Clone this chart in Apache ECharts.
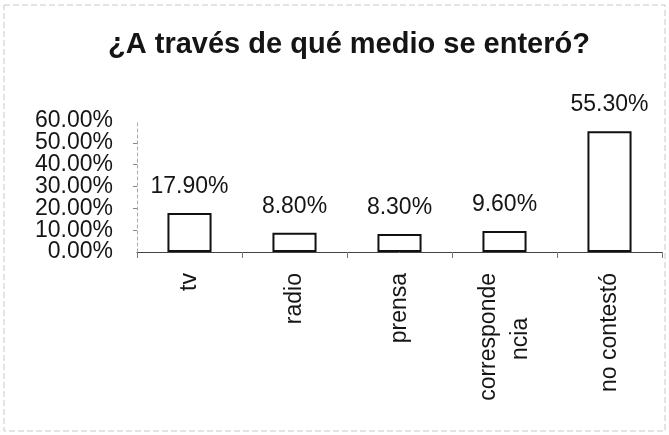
<!DOCTYPE html>
<html>
<head>
<meta charset="utf-8">
<script src="https://cdn.jsdelivr.net/npm/echarts@6/dist/echarts.min.js"></script>
<style>
html,body{margin:0;padding:0;background:#fff;}
#c{width:669px;height:435px;}
</style>
</head>
<body>
<div id="c"></div>
<script>
const titleText = '¿A través de qué medio se enteró?';
const categories = ['tv', 'radio', 'prensa', 'correspondencia', 'no contestó'];
const values = [17.9, 8.8, 8.3, 9.6, 55.3];
const yMin = 0, yMax = 60, yStep = 10;

const FONT = '"Liberation Sans", Arial, sans-serif';
const LABEL_SIZE = 23;
const chart = echarts.init(document.getElementById('c'), null, {renderer: 'canvas'});

const measureCtx = document.createElement('canvas').getContext('2d');
measureCtx.font = LABEL_SIZE + 'px "Liberation Sans", Arial, sans-serif';
function textW(s) { return measureCtx.measureText(s).width; }

// wrap long category names like the original (Excel word-break), centring the second line
function wrapLabel(s) {
  if (s.length > 11) {
    const a = s.slice(0, 11), b = s.slice(11);
    const sp = textW('\u00a0') || 6.4;
    const n = Math.max(0, Math.round((textW(a) - textW(b)) / 2 / sp));
    return a + '\n' + b + '\u00a0'.repeat(n);
  }
  return s;
}

const pct = v => v.toFixed(2) + '%';
const yLabelBase = {
  margin: 24,
  hideOverlap: false,
  color: '#151515',
  fontFamily: FONT,
  fontSize: LABEL_SIZE,
  lineHeight: 18
};

chart.setOption({
  backgroundColor: '#ffffff',
  animation: false,
  title: {
    text: titleText,
    left: 344,
    textAlign: 'center',
    top: 25,
    textStyle: {fontFamily: FONT, fontSize: 29, fontWeight: 'bold', color: '#151515'}
  },
  graphic: [{
    type: 'rect',
    shape: {x: 4, y: 5, width: 661, height: 426},
    style: {fill: 'none', stroke: '#c8c8c8', lineWidth: 1, lineDash: [6, 3]},
    silent: true
  }],
  grid: {left: 137, right: 7, top: 121, bottom: 183, containLabel: false},
  xAxis: {
    type: 'category',
    data: categories,
    axisLine: {lineStyle: {color: '#444', width: 1}},
    axisTick: {show: true, length: 6, lineStyle: {color: '#777'}},
    axisLabel: {
      rotate: 90,
      margin: 21,
      interval: 0,
      color: '#151515',
      fontFamily: FONT,
      fontSize: LABEL_SIZE,
      lineHeight: 32,
      formatter: wrapLabel
    }
  },
  yAxis: [{
    type: 'value',
    position: 'left',
    min: yMin,
    max: yMax,
    interval: yStep,
    splitLine: {show: false},
    axisLine: {show: true, lineStyle: {color: '#aaa', width: 1, type: [3, 3]}},
    axisTick: {show: true, length: 4, lineStyle: {color: '#888'}},
    axisLabel: Object.assign({}, yLabelBase, {
      showMinLabel: false,
      showMaxLabel: false,
      formatter: pct
    })
  }, {
    type: 'value',
    position: 'left',
    offset: 0,
    min: yMin,
    max: yMax,
    interval: yStep,
    splitLine: {show: false},
    axisLine: {show: false},
    axisTick: {show: false},
    axisLabel: Object.assign({}, yLabelBase, {
      showMinLabel: true,
      showMaxLabel: true,
      formatter: v => (v === yMin || v === yMax) ? pct(v) : ''
    })
  }],
  series: [{
    type: 'bar',
    yAxisIndex: 0,
    data: values,
    barWidth: '42%',
    itemStyle: {color: '#ffffff', borderColor: '#111', borderWidth: 2},
    label: {
      show: true,
      position: 'top',
      distance: 15,
      color: '#151515',
      fontFamily: FONT,
      fontSize: LABEL_SIZE,
      formatter: p => pct(p.value)
    }
  }]
});
</script>
</body>
</html>
